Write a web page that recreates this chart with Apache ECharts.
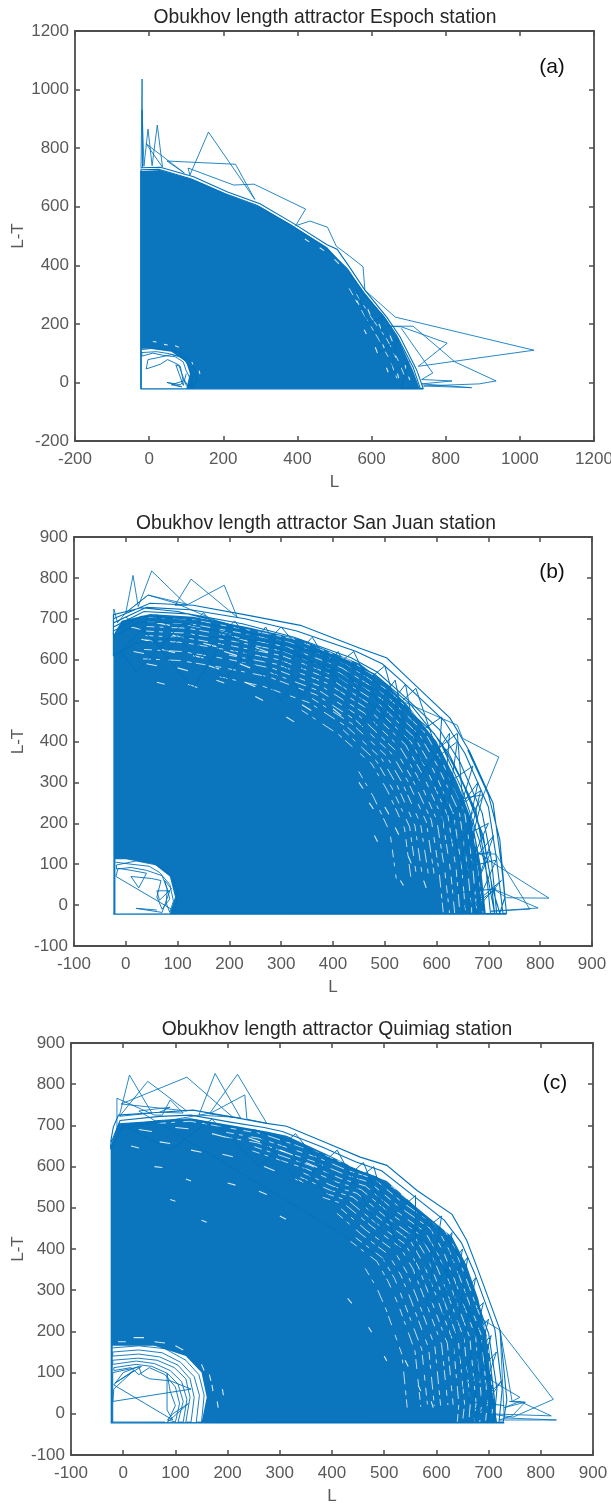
<!DOCTYPE html>
<html><head><meta charset="utf-8"><style>html,body{margin:0;padding:0;background:#fff}#c{width:611px;height:1504px}</style>
<script src="https://cdn.jsdelivr.net/npm/echarts@6/dist/echarts.min.js"></script></head>
<body><div id="c"></div>
<script>
const titles=["Obukhov length attractor Espoch station","Obukhov length attractor San Juan station","Obukhov length attractor Quimiag station"];
const tags=["(a)","(b)","(c)"];
const xTicksA=[-200,1200,200], xTicksB=[-100,900,100];

// solid mass of overlapping traces (outer boundary, then the hole round the origin)
const espochMass=[[-24,-22],[-24,722],[30,725],[120,692],[210,642],[299,600],[388,535],[480,462],[540,380],[582,305],[641,212],[672,150],[712,40],[730,-22],[100,-22],[110,30],[100,70],[60,105],[0,115],[-20,115],[-20,-22]];
const sanJuanMass=[[-24,-22],[-24,660],[-8,695],[47,712],[130,705],[234,680],[337,650],[452,590],[504,540],[543,490],[600,400],[640,300],[670,200],[685,100],[695,-22],[85,-22],[95,20],[85,70],[55,100],[0,112],[-20,112],[-20,-22]];
const quimiagMass=[[-24,-22],[-24,650],[-9,705],[71,712],[134,716],[210,700],[275,685],[313,675],[390,630],[454,590],[505,565],[563,500],[630,430],[658,360],[680,280],[700,170],[712,40],[715,-22],[150,-22],[160,40],[150,100],[120,140],[60,165],[-20,165],[-20,-22]];

// white slivers left between the traces inside the mass: L, L-T at each end
const espochGaps=[[590,250,596,232],[620,200,626,182],[650,160,656,140],[610,120,616,100],[660,100,665,85],[690,60,694,45],[640,50,645,35],[580,180,586,165],[700,20,703,8],[560,280,566,265],[500,420,512,405],[460,460,472,450],[420,490,432,480],[670,30,673,15],[630,130,635,115],[10,140,20,138],[40,130,50,128],[70,125,80,120],[115,70,118,60],[135,40,137,28]];
const sanJuanGaps=[[10,680,30,674],[60,690,85,684],[120,685,145,678],[180,670,205,662],[30,650,52,644],[90,660,112,654],[150,640,175,632],[210,655,235,645],
[15,620,35,615],[70,625,95,617],[130,610,150,604],[190,620,215,610],[250,630,275,618],[40,590,60,585],[100,580,120,573],[160,585,180,577],[220,590,240,580],
[60,545,75,540],[120,540,138,532],[175,550,190,543],[230,545,250,534],[250,510,265,500],[310,460,325,448],[340,490,358,476],[400,480,416,464],
[480,170,486,155],[450,300,458,285],[470,250,478,235],[530,60,536,48],[500,240,508,222],[520,190,527,172],[545,120,551,102],[575,60,580,42]];
const quimiagGaps=[[30,690,55,685],[100,695,125,692],[170,680,195,672],[240,670,262,660],[15,650,30,645],[70,660,90,656],[130,640,150,635],[60,600,75,598],[190,630,210,624],[300,640,325,628],[350,610,372,598],[270,600,290,590],[330,570,345,562],[120,570,130,565],[200,560,215,555],[260,540,275,532],[90,520,100,516],[150,470,160,465],[300,480,312,472],
[430,280,438,268],[470,210,476,198],[500,140,505,128],[565,70,570,55],[590,30,594,15],[540,130,546,115],
[20,185,40,185],[60,175,80,172],[100,165,115,155],[150,120,155,105],[170,70,172,55],[180,30,182,15],[165,95,168,80],[190,60,192,45],[-10,175,5,175]];

// long broken white seams between neighbouring traces
const espochSeams=[[[560,300],[600,220],[640,150],[670,80],[690,20]],[[540,320],[580,230],[618,150],[650,75],[668,15]]];
const sanJuanSeams=[[[45,716],[125,711],[226,687],[326,663],[438,608],[526,540],[606,443],[643,363],[687,241],[703,97],[712,-20]],
[[44,704],[123,699],[222,676],[321,652],[431,599],[518,531],[597,435],[633,356],[676,237],[692,94],[700,-20]],
[[43,692],[122,688],[219,666],[316,642],[424,590],[510,522],[588,428],[623,350],[665,233],[680,92],[690,-20]],
[[41,681],[119,677],[215,655],[311,631],[417,580],[502,513],[578,421],[613,344],[654,229],[670,90],[678,-20]],
[[40,670],[116,665],[212,644],[306,620],[410,570],[494,504],[568,414],[603,338],[644,226],[660,88],[668,-20]],
[[39,659],[114,654],[208,633],[301,610],[403,561],[486,495],[559,407],[593,332],[633,222],[649,86],[656,-20]],
[[38,648],[112,642],[205,622],[296,600],[396,552],[478,486],[550,400],[583,326],[622,218],[638,85],[645,-20]],
[[200,611],[291,589],[389,542],[469,478],[540,392],[573,320],[611,214],[627,83],[635,-20]],
[[36,625],[108,620],[198,601],[286,578],[382,532],[460,470],[530,385],[563,315],[600,210],[616,82],[625,-20]],
[[280,568],[375,523],[452,461],[521,378],[553,309],[590,207],[605,80],[613,-20]],
[[34,602],[104,598],[190,580],[276,558],[368,514],[444,452],[512,372],[544,304],[580,204],[595,78]],
[[360,505],[436,444],[503,365],[534,298],[569,199],[584,76]],
[[182,558],[265,535],[354,495],[428,435],[494,358],[524,292],[558,195],[572,75]],
[[420,428],[484,352],[514,286],[548,191],[561,72]],
[[340,476],[410,418],[475,345],[505,280],[538,188],[550,70]],
[[450,326],[478,265],[510,178],[522,66]]];
const quimiagSeams=[[[68,705],[128,710],[202,694],[265,680],[376,633],[438,600],[487,581],[543,522],[607,466],[634,405],[655,335],[696,195],[709,30],[705,-20]],
[[198,683],[260,669],[370,623],[431,590],[480,571],[535,513],[598,458],[624,399],[645,330],[686,191],[698,29],[694,-20]],
[[195,672],[256,658],[364,613],[424,581],[472,562],[526,505],[588,450],[614,392],[635,324],[675,188],[687,28],[683,-20]],
[[252,648],[358,603],[417,571],[464,553],[518,496],[578,442],[604,385],[625,318],[664,185],[676,26],[672,-20]],
[[248,638],[352,594],[410,562],[456,544],[510,488],[568,435],[594,378],[615,313],[653,182],[665,25],[662,-20]],
[[346,584],[403,552],[448,535],[501,480],[559,428],[585,372],[605,308],[642,178],[654,24],[650,-20]],
[[340,574],[396,543],[440,526],[493,472],[550,420],[575,365],[595,302],[632,175],[643,24],[640,-20]],
[[390,534],[432,517],[484,463],[540,412],[565,358],[584,296],[621,171],[632,23]],
[[383,525],[425,508],[476,455],[530,405],[555,352],[574,290],[610,168],[622,22]],
[[418,497],[466,445],[519,396],[543,344],[562,284],[597,164],[608,21]],
[[410,486],[456,436],[508,387],[532,336],[551,277],[585,160],[596,20]],
[[446,427],[497,378],[520,328],[538,271],[572,156],[583,19]],
[[436,418],[486,370],[508,320],[527,265],[559,152],[570,18]],
[[464,352],[486,305],[504,252],[534,144],[544,16]]];

// readable traces along the edge of the mass
const espochTrace=[[-22,733],[30,735],[120,702],[210,651],[299,610],[388,544],[480,470],[507,455],[542,391],[582,315],[641,223],[677,155],[722,42],[739,-20],
[731,-20],[712,52],[668,160],[633,226],[574,310],[535,388],[474,462],[382,538],[292,604],[204,645],[114,695],[26,728],[-22,726],
[-22,-22],[740,-22],[680,-20],[700,70],[650,30],[670,150],[620,100],[630,225],[590,200],[560,320]];
const espochFringe=[[-20,112],[20,118],[70,108],[100,90],[122,50],[130,10],[118,-20],[108,-18],[118,15],[108,55],[90,85],[55,98],[20,105],[-20,102],
[-19,90],[10,100],[40,92],[70,88],[92,70],[100,40],[112,10],[120,-15],[100,-10],[88,30],[80,60],[50,78],[30,62],[-8,46],[-3,78],[25,85],[60,95],[95,85],[110,45],[130,10],[108,-18],[94,10],[85,-8],[48,0],[88,-15],[60,-8],[92,5],[84,55],[72,60],[92,-10],[100,30]];
const espochPeaks=[[-22,730],[-19,1036],[-18,735],[-19,930],[-14,738],[-3,865],[8,740],[22,879],[36,735],[-8,815],[95,715],[48,756],[233,745],[285,625],[160,855],[110,708],[105,732],[228,674],[283,677],[422,592],[395,535],[434,551],[481,530],[505,465],[541,431],[577,395],[582,315],[664,223],[1038,110],[726,55],[804,134],[680,190],[640,192],[712,192],[825,70],[936,5],[890,-5],[740,-12],[870,-18],[735,-5],[817,5],[735,10],[765,32],[680,185]];

const sanJuanTrace=[[-24,700],[47,738],[130,733],[234,709],[337,684],[452,628],[504,604],[543,557],[626,457],[664,375],[709,249],[725,100],[735,-20],
[728,-20],[716,110],[700,240],[655,370],[615,450],[535,545],[495,590],[445,620],[330,670],[230,700],[125,722],[40,728],[-24,690],
[-24,680],[35,718],[120,712],[225,688],[325,655],[435,605],[485,570],[525,525],[605,430],[645,350],[688,225],[706,110],[716,-20],
[704,-20],[694,105],[676,230],[632,345],[595,420],[515,510],[472,555],[425,590],[315,640],[218,672],[115,700],[30,706],[-24,670],
[-24,655],[25,692],[108,690],[212,660],[305,622],[415,570],[460,530],[500,490],[580,395],[622,320],[662,210],[680,100],[692,-20],
[650,-20],[645,100],[625,230],[580,340],[520,430],[450,520],[370,590],[280,650],[190,690],[100,718],[30,727],[-24,710],
[-24,610],[20,640],[100,655],[200,655],[300,640],[400,610],[480,565],[550,490],[610,395],[650,300],[690,170],[705,60],[712,-20],
[-24,-22],[735,-22],[712,-20],[700,60],[682,160],[650,280],[610,390],[622,375],[664,265],[692,150],[708,40],[722,-20],[732,20],[722,160],[700,270],[660,380]];
const sanJuanCross=[[0,705],[80,620],[150,715],[230,590],[300,680],[380,560],[440,620],[500,460],[560,530],[600,380],[640,420],[650,260],[690,270],[660,120],[705,130],[650,-20],
[715,40],[640,30],[700,200],[625,150],[670,340],[600,280],[610,460],[540,400],[500,585],[430,510],[360,655],[290,560],[210,695],[140,600],[60,710],[-10,620],
[20,570],[110,690],[190,550],[270,680],[340,510],[410,620],[480,440],[540,540],[570,330],[640,400],[620,220],[685,280],[650,90],[715,110],[670,-20],
[725,60],[660,-10],[710,170],[640,60],[680,300],[610,180],[625,420],[560,300],[520,550],[450,430],[370,630],[300,500],[200,670],[130,530],[30,680]];
const sanJuanFringe=[[-20,105],[10,100],[45,95],[65,80],[85,50],[92,10],[85,-18],[78,5],[80,40],[70,72],[40,85],[10,92],[-18,88],[-18,98],[20,108],[60,98],[90,70],[100,30],[95,-15],
[-19,70],[-15,90],[10,85],[40,78],[25,42],[10,70],[50,65],[68,60],[60,20],[70,-10],[85,15],[75,60],[88,40],[65,12],[60,35],[85,35],[70,-18],[20,-8],[60,-12]];
const sanJuanPeaks=[[-24,660],[-23,724],[-16,690],[0,715],[14,806],[24,730],[50,817],[118,733],[95,733],[126,797],[215,704],[190,782],[120,735],[43,758],[0,715],[43,758],[97,738],
[640,440],[650,408],[720,362],[689,265],[640,165],[709,103],[817,17],[735,18],[709,40],[796,-7],[705,-15],[780,-10],[714,125],[670,125]];

const quimiagTrace=[[-24,660],[-19,696],[-9,725],[71,732],[134,737],[210,720],[275,705],[313,698],[390,657],[454,623],[505,603],[563,542],[630,484],[658,421],[680,348],[722,203],[735,33],[728,-20],
[720,-20],[726,60],[712,205],[672,345],[648,415],[615,470],[555,530],[495,590],[445,612],[380,648],[305,685],[270,695],[205,708],[130,725],[70,722],[-6,712],[-24,655],
[-24,645],[0,700],[68,712],[128,716],[200,698],[262,685],[298,672],[370,635],[432,598],[485,575],[540,515],[600,455],[636,400],[660,335],[700,195],[716,60],[710,-20],
[-24,-22],[730,-22],[715,-20],[700,100],[680,200],[640,300],[590,400],[540,460],[560,450],[615,355],[660,255],[690,150],[705,40],[698,-20]];
const quimiagCross=[[0,700],[90,640],[170,715],[260,600],[330,680],[420,540],[480,600],[520,420],[590,470],[590,300],[650,400],[620,180],[690,270],[650,60],[715,150],[670,-20],
[725,80],[665,0],[705,190],[640,100],[675,330],[610,220],[630,440],[560,320],[560,530],[490,450],[410,640],[340,560],[250,690],
[300,670],[390,530],[460,610],[530,400],[610,480],[580,250],[660,380],[630,130],[700,230],[660,30],[730,20]];
const quimiagFringe=[[-20,160],[30,165],[80,158],[120,130],[145,95],[155,45],[150,-20],[140,-20],[146,45],[136,90],[110,125],[75,148],[30,155],[-20,150],
[-20,140],[30,145],[70,138],[105,118],[128,85],[136,40],[130,-20],[120,-20],[128,40],[120,85],[98,112],[65,130],[28,135],[-20,130],
[-20,120],[25,128],[60,122],[90,105],[112,78],[122,35],[115,-20],[105,-20],[115,30],[105,72],[85,98],[55,115],[25,120],[-18,112],
[-18,105],[15,112],[30,95],[50,112],[80,95],[100,65],[108,25],[100,-20],[85,-15],[95,0],[125,25],[85,-20],[100,20],[90,55],[84,98],[84,9],[95,-15],
[-18,70],[0,100],[30,115],[35,95],[50,85],[90,80],[130,60],[-20,30],[-18,60],[20,105],[-15,75],[35,115],[-20,100],[-20,-20],[80,-20]];
const quimiagPeaks=[[-7,725],[12,822],[55,730],[-7,722],[47,807],[122,735],[-4,752],[122,817],[210,720],[145,725],[176,826],[225,718],[165,728],[219,824],[275,705],[237,715],[233,774],[168,730],[-12,690],[-12,766],[60,725],[75,725],[90,762],[115,730],[70,732],[90,744],[30,735],
[722,203],[824,35],[747,-8],[700,0],[820,-5],[760,30],[730,15],[770,28],[740,30],[770,28],[745,-5],[720,-15],[830,-15],[730,-10],[722,203],[745,30],[760,40],[680,100],[680,170]];

const panels=[
 {g:{left:75,top:31,width:519,height:410,outerBoundsMode:'none'},x:xTicksA,y:[-200,1200,200],nameY:48,mass:espochMass,gaps:espochGaps,seams:espochSeams,tr:espochTrace,cr:[],fr:espochFringe,pk:espochPeaks,ty:13,tc:320,tagx:547,tagy:62},
 {g:{left:74,top:537,width:518,height:409,outerBoundsMode:'none'},x:xTicksB,y:[-100,900,100],nameY:47,mass:sanJuanMass,gaps:sanJuanGaps,seams:sanJuanSeams,tr:sanJuanTrace,cr:sanJuanCross,fr:sanJuanFringe,pk:sanJuanPeaks,ty:519,tc:311,tagx:547,tagy:567},
 {g:{left:71,top:1043,width:522,height:412,outerBoundsMode:'none'},x:xTicksB,y:[-100,900,100],nameY:44,mass:quimiagMass,gaps:quimiagGaps,seams:quimiagSeams,tr:quimiagTrace,cr:quimiagCross,fr:quimiagFringe,pk:quimiagPeaks,ty:1025,tc:332,tagx:550,tagy:1078}
];
const AX='#4d4d4d', BLUE='#0072bd', FILL='#0b75bd';
const opt={animation:false,backgroundColor:'#fff',grid:[],xAxis:[],yAxis:[],series:[],title:[]};
const nameStyle={color:'#595959',fontFamily:'Liberation Sans',fontSize:17};
panels.forEach((p,i)=>{
  opt.grid.push(p.g);
  const base=(show,pos,r,m)=>({type:'value',gridIndex:i,position:pos,min:r[0],max:r[1],interval:r[2],splitLine:{show:false},
    axisLine:{show:true,onZero:false,lineStyle:{color:AX,width:1.8}},axisTick:{show:true,inside:true,length:5,lineStyle:{color:AX,width:1.5}},
    axisLabel:{show:show,color:'#595959',fontFamily:'Liberation Sans',fontSize:17,margin:m,formatter:v=>String(v),showMinLabel:true,showMaxLabel:true,hideOverlap:false}});
  opt.xAxis.push(Object.assign(base(true,'bottom',p.x,10),{name:'L',nameLocation:'middle',nameGap:33,nameTextStyle:nameStyle}),base(false,'top',p.x,0));
  opt.yAxis.push(Object.assign(base(true,'left',p.y,6),{name:'L-T',nameLocation:'middle',nameGap:p.nameY,nameMoveOverlap:false,nameTextStyle:nameStyle}),base(false,'right',p.y,0));
  const xi=i*2, yi=i*2;
  const line=(d,z,style)=>({type:'line',xAxisIndex:xi,yAxisIndex:yi,z:z,data:d,connectNulls:false,showSymbol:false,symbol:'none',silent:true,lineStyle:style});
  opt.series.push({type:'custom',xAxisIndex:xi,yAxisIndex:yi,z:1,silent:true,clip:true,data:p.mass,encode:{x:0,y:1},
    renderItem:(params,api)=>params.dataIndex===0?{type:'polygon',shape:{points:p.mass.map(d=>api.coord(d))},style:{fill:FILL}}:null});
  const gapData=[]; p.gaps.forEach(g=>{gapData.push([g[0],g[1]],[g[2],g[3]],[null,null]);});
  opt.series.push(line(gapData,2,{color:'#ffffff',opacity:0.85,width:1.1}));
  const seamData=[]; p.seams.forEach(s=>{s.forEach(q=>seamData.push(q));seamData.push([null,null]);});
  opt.series.push(line(seamData,2,{color:'#ffffff',opacity:0.75,width:1,type:[7,6,3,9,12,7,4,5,9,11,5,8],cap:'round'}));
  [[p.cr,1],[p.tr,1.1],[p.fr,0.9],[p.pk,0.85]].forEach(([d,w],k)=>opt.series.push(line(d,3+k,{color:BLUE,width:w,join:'miter'})));
  opt.title.push({text:titles[i],left:p.tc,top:p.ty,textAlign:'center',textVerticalAlign:'middle',textStyle:{color:'#262626',fontFamily:'Liberation Sans',fontSize:19.3,fontWeight:'normal'}});
  opt.title.push({text:tags[i],left:p.tagx,top:p.tagy,textAlign:'center',textVerticalAlign:'middle',textStyle:{color:'#111',fontFamily:'Liberation Sans',fontSize:21,fontWeight:'normal'}});
});
echarts.init(document.getElementById('c'),null,{renderer:'canvas'}).setOption(opt);
</script></body></html>
